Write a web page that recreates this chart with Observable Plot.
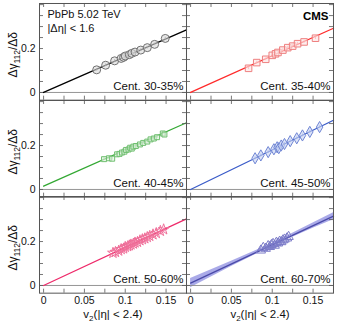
<!DOCTYPE html>
<html><head><meta charset="utf-8">
<script src="https://cdn.jsdelivr.net/npm/d3@7"></script>
<script src="https://cdn.jsdelivr.net/npm/@observablehq/plot@0.6"></script>
<style>
body{margin:0;background:#fff;}
#chart{position:relative;width:337px;height:322px;overflow:hidden;background:#fff;}
#chart svg{position:absolute;overflow:visible;background:none;}
</style></head><body><div id="chart"></div>
<script>
// ---- data ----
const centralities = ["Cent. 30-35%", "Cent. 35-40%", "Cent. 40-45%", "Cent. 45-50%", "Cent. 50-60%", "Cent. 60-70%"];
const v2_30_35 = [0.065, 0.076, 0.087, 0.095, 0.098, 0.100, 0.105, 0.108, 0.112, 0.119, 0.127, 0.136, 0.149];
const dg_30_35 = [0.103, 0.124, 0.144, 0.155, 0.160, 0.166, 0.172, 0.178, 0.184, 0.193, 0.204, 0.219, 0.246];
const v2_35_40 = [0.071, 0.081, 0.092, 0.100, 0.104, 0.107, 0.113, 0.119, 0.125, 0.131, 0.139, 0.153];
const dg_35_40 = [0.110, 0.136, 0.151, 0.169, 0.176, 0.182, 0.193, 0.204, 0.211, 0.222, 0.230, 0.247];
const v2_40_45 = [0.074, 0.080, 0.084, 0.090, 0.093, 0.096, 0.099, 0.101, 0.104, 0.106, 0.108, 0.110, 0.113, 0.118, 0.122, 0.127, 0.131, 0.135, 0.139, 0.146, 0.148];
const dg_40_45 = [0.138, 0.142, 0.140, 0.160, 0.162, 0.168, 0.172, 0.180, 0.182, 0.190, 0.186, 0.195, 0.198, 0.205, 0.212, 0.218, 0.228, 0.232, 0.238, 0.255, 0.250];
const v2_45_50 = [0.079, 0.086, 0.095, 0.102, 0.106, 0.108, 0.111, 0.115, 0.122, 0.130, 0.137, 0.146, 0.158];
const dg_45_50 = [0.142, 0.155, 0.170, 0.183, 0.192, 0.188, 0.200, 0.207, 0.220, 0.233, 0.246, 0.262, 0.284];
const v2_50_60 = [0.085, 0.088, 0.092, 0.095, 0.098, 0.100, 0.103, 0.105, 0.107, 0.110, 0.112, 0.115, 0.118, 0.121, 0.124, 0.127, 0.130, 0.134, 0.138, 0.143, 0.147];
const dg_50_60 = [0.148, 0.152, 0.158, 0.165, 0.168, 0.175, 0.178, 0.182, 0.186, 0.190, 0.195, 0.198, 0.205, 0.210, 0.214, 0.220, 0.225, 0.232, 0.238, 0.248, 0.255];
const v2_60_70 = [0.086, 0.089, 0.092, 0.095, 0.097, 0.099, 0.101, 0.103, 0.105, 0.107, 0.109, 0.111, 0.113, 0.115, 0.118, 0.120];
const dg_60_70 = [0.160, 0.172, 0.168, 0.180, 0.176, 0.185, 0.190, 0.182, 0.195, 0.192, 0.200, 0.198, 0.206, 0.210, 0.215, 0.222];
// linear fits: intercept and slope per centrality
const fitIntercept = [0.0, 0.0, 0.015, 0.0, 0.0, 0.011];
const fitSlope = [1.63, 1.67, 1.65, 1.80, 1.73, 1.74];
// uncertainty band of the 60-70% fit
const bandV2 = [0, 0.05, 0.1, 0.15, 0.175];
const bandHalf = [0.021, 0.012, 0.006, 0.012, 0.016];
const xTickLabels = [0, 0.05, 0.1, 0.15];
const yTickLabels = [0, 0.2];
const xMinorTicks = [0, 0.025, 0.05, 0.075, 0.1, 0.125, 0.15, 0.175];
const yMinorTicks = [0, 0.05, 0.1, 0.15, 0.2, 0.25, 0.3, 0.35, 0.4];
const system = "PbPb 5.02 TeV";
const etaCut = "|Δη| < 1.6";
const experiment = "CMS";
const yTitle = "Δγ112/Δδ";
const xTitle = "v2(|η| < 2.4)";

// ---- styling ----
const xsAll = [v2_30_35, v2_35_40, v2_40_45, v2_45_50, v2_50_60, v2_60_70];
const ysAll = [dg_30_35, dg_35_40, dg_40_45, dg_45_50, dg_50_60, dg_60_70];
const lineColor = ["#000000", "#ff2a2a", "#33a833", "#3a5bc8", "#ee2a6a", "#4a4aa8"];
const markStroke = ["#707070", "#ee7f7f", "#6fbf6f", "#6f86d4", "#ef6f9a", "#7a7ac8"];
const markFill = ["#d8d8d8", "#fbe3e3", "#dff0df", "#c7d2f2", "none", "none"];
const symbols = ["circle", "square", "square", "diamond", "star", "triangle"];
const sizes = [4.0, 3.7, 2.8, 3.4, 3.4, 3.5];
const font = "'Liberation Sans', Arial, Helvetica, sans-serif";

const xDomain = [-0.005, 0.175];
const yDomain = [-0.035, 0.405];
const colLeft = [39, 186];
const panelW = 147;
const rowTop = [3, 99.67, 196.33];
const panelH = 96.67;

const chart = document.getElementById("chart");

for (let i = 0; i < 6; i++) {
  const c = i % 2, r = Math.floor(i / 2);
  const ml = c === 0 ? 39 : 0, mr = c === 1 ? 4 : 0, mt = r === 0 ? 3 : 0, mb = r === 2 ? 29 : 0;
  const pts = xsAll[i].map((x, j) => ({x, y: ysAll[i][j]}));
  const fit = [0, xDomain[1]].map(x => ({x, y: fitIntercept[i] + fitSlope[i] * x}));
  const marks = [];
  if (i === 5) {
    const band = bandV2.map((x, j) => ({x, lo: fitIntercept[i] + fitSlope[i] * x - bandHalf[j], hi: fitIntercept[i] + fitSlope[i] * x + bandHalf[j]}));
    marks.push(Plot.areaY(band, {x: "x", y1: "lo", y2: "hi", fill: "#8d8de0", fillOpacity: 0.75}));
  }
  marks.push(Plot.ruleY([0], {stroke: "#8a8a8a", strokeWidth: 0.9}));
  marks.push(Plot.line(fit, {x: "x", y: "y", stroke: lineColor[i], strokeWidth: 1.3}));
  marks.push(Plot.ruleX(pts, {x: "x", y1: d => d.y - 0.006, y2: d => d.y + 0.006, stroke: markStroke[i], strokeWidth: 0.8}));
  marks.push(Plot.dot(pts, {x: "x", y: "y", symbol: symbols[i], r: sizes[i], stroke: markStroke[i], fill: markFill[i], fillOpacity: 0.6, strokeWidth: 1}));
  // inward ticks on all four sides
  marks.push(Plot.tickX(xMinorTicks, {x: d => d, insetTop: panelH - 4, stroke: "#555", strokeWidth: 0.8}));
  marks.push(Plot.tickX(xMinorTicks, {x: d => d, insetBottom: panelH - 4, stroke: "#555", strokeWidth: 0.8}));
  marks.push(Plot.tickY(yMinorTicks, {y: d => d, insetRight: panelW - 4, stroke: "#555", strokeWidth: 0.8}));
  marks.push(Plot.tickY(yMinorTicks, {y: d => d, insetLeft: panelW - 4, stroke: "#555", strokeWidth: 0.8}));
  marks.push(Plot.frame({stroke: "#555", strokeWidth: 1}));
  marks.push(Plot.text([centralities[i]], {frameAnchor: "bottom-right", dx: -3, dy: -14, fontSize: 11.5, fill: "#111", lineAnchor: "middle"}));
  if (i === 0) {
    marks.push(Plot.text([system], {frameAnchor: "top-left", dx: 8, dy: 11, fontSize: 11, textAnchor: "start", lineAnchor: "middle", fill: "#111"}));
    marks.push(Plot.text([etaCut], {frameAnchor: "top-left", dx: 8, dy: 25, fontSize: 11, textAnchor: "start", lineAnchor: "middle", fill: "#111"}));
  }
  if (i === 1) {
    marks.push(Plot.text([experiment], {frameAnchor: "top-right", dx: -5, dy: 13, fontSize: 11.5, fontWeight: "bold", textAnchor: "end", lineAnchor: "middle", fill: "#000"}));
  }
  if (c === 0) {
    marks.push(Plot.text([yTitle], {frameAnchor: "left", dx: -26, dy: 3, rotate: -90, fontSize: 12, textAnchor: "middle", lineAnchor: "middle", fill: "#111"}));
  }
  if (r === 2) {
    marks.push(Plot.text([xTitle], {frameAnchor: "bottom", dy: 21, fontSize: 11.5, textAnchor: "middle", lineAnchor: "middle", fill: "#111"}));
  }
  const svg = Plot.plot({
    width: panelW + ml + mr,
    height: panelH + mt + mb,
    marginLeft: ml, marginRight: mr, marginTop: mt, marginBottom: mb,
    x: {domain: xDomain, ticks: xTickLabels, tickFormat: d => String(d), tickSize: 0, tickPadding: 3, label: null, axis: r === 2 ? "bottom" : null},
    y: {domain: yDomain, ticks: yTickLabels, tickFormat: d => String(d), tickSize: 0, tickPadding: 4, label: null, axis: c === 0 ? "left" : null},
    style: {fontFamily: font, fontSize: "10.5px", color: "#111", background: "none", overflow: "visible"},
    marks
  });
  svg.style.left = (colLeft[c] - ml) + "px";
  svg.style.top = (rowTop[r] - mt) + "px";
  // subscripts in axis titles
  d3.select(svg).selectAll("text").each(function () {
    const t = d3.select(this);
    if (this.textContent === yTitle) {
      t.text(null);
      t.append("tspan").text("Δγ");
      t.append("tspan").attr("dy", 3).attr("font-size", 8.5).text("112");
      t.append("tspan").attr("dy", -3).text("/Δδ");
    } else if (this.textContent === xTitle) {
      t.text(null);
      t.append("tspan").text("v");
      t.append("tspan").attr("dy", 3).attr("font-size", 8).text("2");
      t.append("tspan").attr("dy", -3).text("(|η| < 2.4)");
    }
  });
  chart.appendChild(svg);
}
</script>
</body></html>
